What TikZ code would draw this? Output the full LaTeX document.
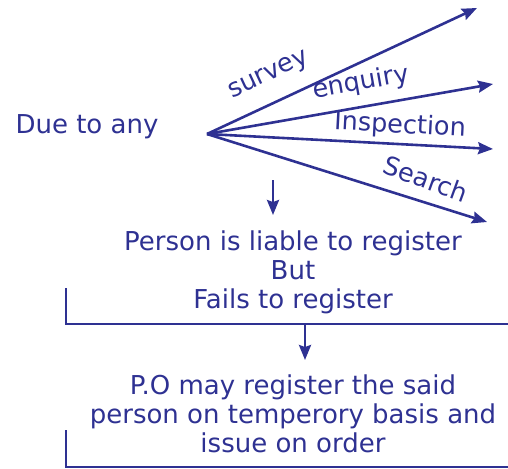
\documentclass[tikz,border=0pt]{standalone}
\usepackage{fontspec}
\setmainfont{DejaVu Sans}
\usetikzlibrary{arrows.meta,positioning}
\definecolor{Ink}{HTML}{2E3192}

\begin{document}
\begin{tikzpicture}[x=1pt,y=-1pt,
    txt/.style={text=Ink,inner sep=0pt,align=center,
      font=\fontsize{26}{29}\selectfont},
    lbl/.style={text=Ink,inner sep=0pt,font=\fontsize{25.5}{28}\selectfont},
    arr/.style={draw=Ink,line width=2.6pt,
      -{Stealth[length=15pt,width=12pt,inset=2pt]}},
    rule/.style={draw=Ink,line width=2.6pt}]
  \useasboundingbox (0,0) rectangle (508,468);
  % fan of reasons
  \node[txt] (due) at (87,127) {Due to any};
  \coordinate (o) at (207,134);
  \coordinate (sv) at (477,8);
  \coordinate (eq) at (493,84);
  \coordinate (in) at (493,149);
  \coordinate (se) at (487,222);
  \draw[arr] (o) -- (sv);
  \draw[arr] (o) -- (eq);
  \draw[arr] (o) -- (in);
  \draw[arr] (o) -- (se);
  \node[lbl,rotate=25] (survey) at (269,76) {survey};
  \node[lbl,rotate=10] (enquiry) at (361,83) {enquiry};
  \node[lbl,rotate=-3] (insp) at (400,126) {Inspection};
  \node[lbl,rotate=-20] (search) at (426,179) {Search};
  % first step
  \coordinate (d1) at (273,180);
  \coordinate (d2) at (273,215);
  \draw[arr] (d1) -- (d2);
  \node[txt] (liable) at (293,272) {Person is liable to register\\But\\Fails to register};
  \coordinate (b1) at (66,288);
  \coordinate (b1e) at (508,324);
  \draw[rule] (b1) |- (b1e);
  \coordinate (a1) at (305,324);
  \coordinate (a2) at (305,360);
  \draw[arr] (a1) -- (a2);
  % second step
  \node[txt] (po) at (293,414) {P.O may register the said\\person on temperory basis and\\issue on order};
  \coordinate (b2) at (66,430);
  \coordinate (b2e) at (508,467);
  \draw[rule] (b2) |- (b2e);
\end{tikzpicture}
\end{document}
